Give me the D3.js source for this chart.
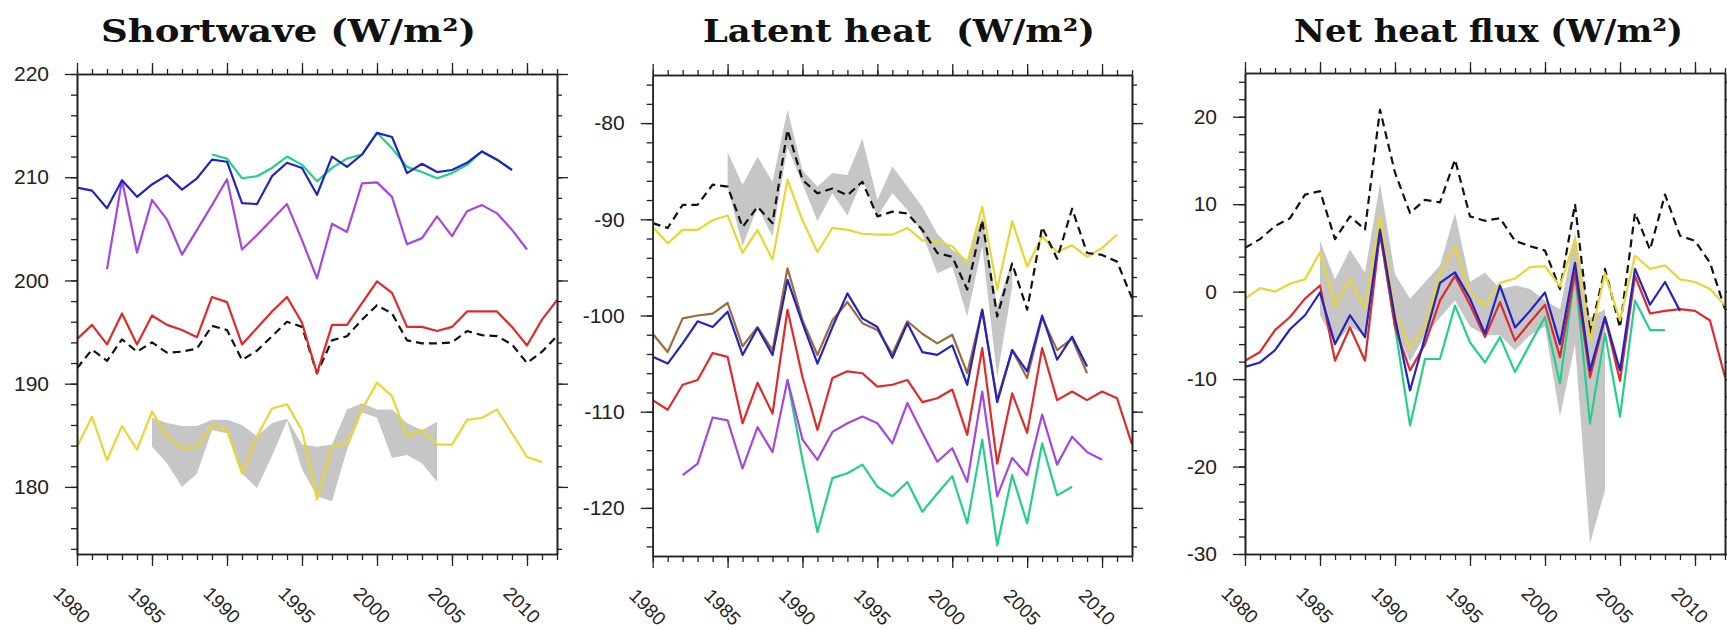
<!DOCTYPE html>
<html><head><meta charset="utf-8">
<script src="https://cdn.jsdelivr.net/npm/d3@7"></script>
<style>body{margin:0;background:#fff} svg{display:block}</style>
</head><body>
<svg id="c" width="1727" height="630"></svg>
<script>
// ---------------- DATA ----------------
const xMajorTicks = [1980, 1985, 1990, 1995, 2000, 2005, 2010];
const titles = ["Shortwave (W/m\u00B2)", "Latent heat  (W/m\u00B2)", "Net heat flux (W/m\u00B2)"];
const swTicks = [180, 190, 200, 210, 220];
const lhTicks = [-120, -110, -100, -90, -80];
const nhTicks = [-30, -20, -10, 0, 10, 20];

// Shortwave
const swBlack = [191.5,193.3,192.2,194.3,193.1,194.0,193.0,193.1,193.4,195.6,195.2,192.3,193.2,194.6,196.0,195.5,191.0,194.2,194.6,196.2,197.6,196.8,194.2,193.9,193.9,194.0,195.1,194.7,194.6,193.8,192.0,193.1,194.6]; // 1980-2012
const swRed = [194.3,195.7,193.8,196.8,193.8,196.6,195.7,195.2,194.5,198.4,197.9,193.8,195.4,197.0,198.4,195.9,191.0,195.7,195.7,197.8,199.9,198.8,195.5,195.5,195.1,195.5,197.0,197.0,197.0,195.5,193.7,196.2,198.1]; // 1980-2012
const swYellow = [183.9,186.8,182.6,185.9,183.6,187.3,184.9,183.8,183.8,186.0,185.5,181.3,184.9,187.6,188.0,185.5,178.8,183.9,184.2,187.5,190.1,188.8,184.9,185.5,184.1,184.1,186.5,186.7,187.5,185.2,182.9,182.4]; // 1980-2011
const swBlue = [209.0,208.7,207.0,209.7,208.1,209.3,210.2,208.8,209.9,211.7,211.5,207.5,207.4,210.1,211.4,210.9,208.3,212.0,211.0,212.2,214.3,213.9,210.4,211.3,210.5,210.7,211.4,212.5,211.7,210.7]; // 1980-2009
const swGreen = [212.2,211.8,209.9,210.1,210.9,212.0,211.2,209.6,210.9,211.8,212.2,214.3,212.8,211.0,210.5,209.9,210.4,211.2,212.5,211.7,210.7]; // 1989-2009
const swPurple = [201.1,209.7,202.7,207.8,205.9,202.5,204.9,207.3,209.8,203.0,204.4,205.9,207.4,203.9,200.2,205.5,204.7,209.4,209.5,208.1,203.5,204.1,206.2,204.3,206.7,207.3,206.5,204.9,203.0]; // 1982-2010
const swBandHi = [186.7,186.2,185.9,185.9,186.5,186.5,186.0,184.9,186.2,186.6,184.1,183.9,184.1,187.5,188.1,187.5,187.5,186.2,185.5,186.3]; // 1985-2004
const swBandLo = [183.9,182.3,180.0,181.3,185.5,185.2,181.3,179.9,183.0,186.4,181.7,179.1,178.6,183.6,187.2,186.7,182.8,183.1,182.3,180.5];

// Latent heat
const lhBlack = [-90.4,-90.9,-88.5,-88.5,-86.4,-86.6,-90.8,-88.7,-90.4,-80.7,-85.9,-87.3,-86.8,-87.5,-86.1,-89.7,-89.2,-89.4,-91.1,-93.5,-93.9,-97.3,-90.1,-100.1,-94.6,-99.4,-90.8,-94.1,-88.9,-93.5,-93.7,-94.4,-98.2]; // 1980-2012
const lhYellow = [-90.8,-92.5,-91.1,-91.1,-90.1,-89.6,-93.5,-91.1,-94.2,-85.9,-90.1,-93.4,-90.9,-91.1,-91.5,-91.6,-91.6,-90.9,-92.2,-92.3,-92.8,-94.6,-88.7,-97.3,-90.2,-94.9,-91.8,-93.4,-92.7,-93.9,-93.0,-91.6]; // 1980-2011
const lhBrown = [-101.9,-103.8,-100.3,-100.0,-99.8,-98.7,-103.2,-101.2,-103.6,-95.1,-100.5,-104.1,-100.5,-98.6,-100.8,-101.5,-104.0,-100.6,-101.9,-102.9,-102.0,-106.0,-99.4,-108.8,-103.6,-106.5,-100.2,-103.6,-102.4,-106.0]; // 1980-2009
const lhBlue = [-104.3,-105.0,-102.9,-100.6,-101.2,-99.6,-104.1,-101.3,-104.1,-96.3,-100.8,-105.0,-101.2,-97.7,-100.3,-101.2,-104.4,-100.8,-103.8,-104.1,-103.1,-107.2,-99.4,-109.0,-103.6,-105.8,-100.0,-104.6,-102.2,-105.3]; // 1980-2009
const lhRed = [-108.8,-109.8,-107.2,-106.7,-103.9,-104.3,-111.2,-107.0,-110.2,-99.4,-106.4,-111.9,-106.5,-105.8,-106.0,-107.4,-107.2,-106.7,-109.0,-108.6,-107.7,-112.4,-103.4,-115.4,-108.1,-112.2,-103.4,-108.8,-107.9,-108.8,-107.9,-108.6,-113.4]; // 1980-2012
const lhPurple = [-116.6,-115.4,-110.6,-110.9,-115.9,-111.6,-114.2,-106.7,-112.9,-115.0,-112.1,-111.2,-110.5,-111.2,-113.3,-109.1,-112.2,-115.2,-113.8,-117.3,-107.9,-118.8,-114.8,-116.6,-110.3,-115.5,-112.6,-114.2,-115.0]; // 1982-2010
const lhGreen = [-106.7,-115.0,-122.5,-116.9,-116.4,-115.5,-117.8,-118.8,-117.3,-120.4,-118.5,-116.7,-121.6,-112.9,-123.9,-116.6,-121.6,-113.3,-118.7,-117.8]; // 1989-2008
const lhBandHi = [-83.0,-86.4,-83.5,-86.1,-78.6,-84.9,-86.6,-85.2,-85.4,-81.6,-88.0,-84.5,-86.6,-88.7,-91.5,-93.2,-94.2,-89.7,-99.1,-94.2]; // 1985-2004
const lhBandLo = [-86.6,-92.8,-88.7,-91.8,-82.5,-86.3,-90.2,-87.3,-89.6,-85.9,-89.7,-87.3,-89.0,-91.5,-95.6,-94.9,-100.1,-92.8,-106.4,-97.0];

// Net heat flux
const nhBlack = [5.0,6.0,7.5,8.4,11.1,11.5,6.0,8.6,7.1,20.8,13.6,9.0,10.5,10.2,15.1,8.6,8.1,8.4,5.8,5.2,4.7,0.3,10.0,-4.8,2.6,-4.1,9.0,4.8,11.1,6.4,5.8,3.3,-2.0]; // 1980-2012
const nhYellow = [-0.8,0.4,0.0,0.9,1.4,4.5,-1.6,1.4,-2.0,8.6,-2.5,-6.5,-4.0,2.0,5.2,-0.1,-1.6,1.0,1.5,2.8,2.9,0.6,6.0,-5.6,2.1,-3.3,4.1,2.6,3.0,1.4,1.1,0.3,-1.6]; // 1980-2012
const nhRed = [-7.9,-6.9,-4.4,-2.9,-0.8,0.7,-7.9,-4.1,-7.9,6.7,-4.0,-9.0,-6.0,-1.0,1.8,-1.5,-5.2,-1.2,-5.6,-3.5,-1.5,-7.5,2.2,-9.8,-3.0,-10.2,1.8,-2.5,-2.2,-2.0,-2.2,-3.3,-9.8]; // 1980-2012
const nhBlue = [-8.6,-8.1,-6.7,-4.3,-2.7,-0.1,-6.0,-2.7,-5.2,7.1,-3.0,-11.3,-5.2,1.0,2.2,-0.8,-4.8,0.7,-4.1,-2.2,-0.1,-6.0,3.3,-9.0,-2.9,-9.0,2.6,-1.5,1.1,-2.2]; // 1980-2009
const nhGreen = [6.7,-4.0,-15.3,-7.7,-7.7,-1.6,-5.8,-8.1,-5.2,-9.2,-6.0,-2.9,-10.5,2.2,-15.1,-4.8,-14.3,-1.0,-4.4,-4.4]; // 1989-2008
const nhBandHi = [5.8,1.4,4.8,2.2,12.4,2.0,-0.8,1.1,3.0,9.0,1.1,2.2,0.3,0.7,0.3,-1.0,-2.0,6.7,-3.0,-2.0]; // 1985-2004
const nhBandLo = [-2.7,-6.0,-4.0,-5.0,6.7,-4.0,-8.0,-5.0,-3.0,-1.0,-4.0,-5.0,-5.0,-6.7,-5.0,-4.0,-14.3,-6.0,-28.8,-22.7];

// ---------------- STYLE / LAYOUT ----------------
const C = {black:"#111", red:"#e02a2a", yellow:"#e8d634", blue:"#2323c0", green:"#22d08c", purple:"#a446e0", brown:"#9c6c3c", band:"#c6c6c6"};
const tickFont = "'Liberation Sans', Arial, sans-serif";

const panels = [
  {title: titles[0], titleX: 101, titleW: 375, x0: 77, x1: 557, y0: 74, y1: 554, dom: [173.5, 220], ticks: swTicks,
   band: {start: 1985, hi: swBandHi, lo: swBandLo},
   series: [
     {start:1980, v: swYellow, c: C.yellow},
     {start:1980, v: swBlack, c: C.black, dash: true},
     {start:1980, v: swRed, c: C.red},
     {start:1982, v: swPurple, c: C.purple},
     {start:1989, v: swGreen, c: C.green},
     {start:1980, v: swBlue, c: C.blue}]},
  {title: titles[1], titleX: 703, titleW: 392, x0: 652.7, x1: 1132, y0: 75, y1: 556, dom: [-125, -75], ticks: lhTicks,
   band: {start: 1985, hi: lhBandHi, lo: lhBandLo},
   series: [
     {start:1980, v: lhYellow, c: C.yellow},
     {start:1980, v: lhBlack, c: C.black, dash: true},
     {start:1989, v: lhGreen, c: C.green},
     {start:1982, v: lhPurple, c: C.purple},
     {start:1980, v: lhRed, c: C.red},
     {start:1980, v: lhBrown, c: C.brown},
     {start:1980, v: lhBlue, c: C.blue}]},
  {title: titles[2], titleX: 1294, titleW: 389, x0: 1245, x1: 1725, y0: 73, y1: 554, dom: [-30, 25], ticks: nhTicks,
   band: {start: 1985, hi: nhBandHi, lo: nhBandLo},
   series: [
     {start:1980, v: nhBlack, c: C.black, dash: true},
     {start:1989, v: nhGreen, c: C.green},
     {start:1980, v: nhYellow, c: C.yellow},
     {start:1980, v: nhRed, c: C.red},
     {start:1980, v: nhBlue, c: C.blue}]}
];

const svg = d3.select("#c");
svg.append("rect").attr("width", 1727).attr("height", 630).attr("fill", "#fff");

const toPts = (start, arr) => arr.map((v, i) => ({yr: start + i, v}));
const fmt = d => String(d); // plain hyphen minus like the original

panels.forEach(p => {
  const x = d3.scaleLinear().domain([1980, 2012]).range([p.x0, p.x1]);
  const y = d3.scaleLinear().domain(p.dom).range([p.y1, p.y0]);
  const g = svg.append("g");

  // title
  svg.append("text").attr("x", p.titleX).attr("y", 42)
    .attr("textLength", p.titleW).attr("lengthAdjust", "spacingAndGlyphs")
    .style("white-space", "pre")
    .attr("font-family", "'DejaVu Serif', serif").attr("font-weight", "bold")
    .attr("font-size", 31).attr("fill", "#111").text(p.title);

  const clip = "clip" + Math.round(p.x0);
  svg.append("clipPath").attr("id", clip).append("rect")
    .attr("x", p.x0).attr("y", p.y0).attr("width", p.x1 - p.x0).attr("height", p.y1 - p.y0);
  const plot = g.append("g").attr("clip-path", `url(#${clip})`);

  // band
  const bandPts = p.band.hi.map((h, i) => ({yr: p.band.start + i, hi: h, lo: p.band.lo[i]}));
  plot.append("path").datum(bandPts)
    .attr("d", d3.area().x(d => x(d.yr)).y0(d => y(d.lo)).y1(d => y(d.hi)))
    .attr("fill", C.band).attr("stroke", "none");

  const line = d3.line().x(d => x(d.yr)).y(d => y(d.v));
  p.series.forEach(s => {
    plot.append("path").datum(toPts(s.start, s.v)).attr("d", line)
      .attr("fill", "none").attr("stroke", s.c).attr("stroke-width", 2.2)
      .attr("stroke-linejoin", "round")
      .attr("stroke-dasharray", s.dash ? "8,5" : null);
  });

  // axes
  const minorX = d3.range(1980, 2013);
  const minorY = d3.range(Math.ceil(p.dom[0] / 2) * 2, p.dom[1] + 0.001, 2);
  const ax = (gen, tx, ty) => {
    const a = g.append("g").attr("transform", `translate(${tx},${ty})`).call(gen);
    a.select(".domain").attr("stroke", "#222").attr("stroke-width", 1.6);
    a.selectAll(".tick line").attr("stroke", "#222").attr("stroke-width", 1.3);
    return a;
  };
  // bottom
  ax(d3.axisBottom(x).tickValues(minorX).tickSize(6).tickSizeOuter(0).tickFormat(""), 0, p.y1);
  ax(d3.axisBottom(x).tickValues(xMajorTicks).tickSize(12).tickSizeOuter(0).tickFormat(""), 0, p.y1);
  // rotated year labels
  g.selectAll("text.xl").data(xMajorTicks).join("text").attr("class", "xl")
    .attr("transform", d => `translate(${x(d) - 5},${p.y1 + 51}) rotate(45)`)
    .attr("text-anchor", "middle").attr("dy", "0.35em")
    .attr("font-family", tickFont).attr("font-size", 19).attr("fill", "#222")
    .text(fmt);
  // top
  ax(d3.axisTop(x).tickValues(minorX).tickSize(5).tickSizeOuter(0).tickFormat(""), 0, p.y0);
  ax(d3.axisTop(x).tickValues(xMajorTicks).tickSize(11).tickSizeOuter(0).tickFormat(""), 0, p.y0);
  // left
  ax(d3.axisLeft(y).tickValues(minorY).tickSize(6).tickSizeOuter(0).tickFormat(""), p.x0, 0);
  const ly = ax(d3.axisLeft(y).tickValues(p.ticks).tickSize(12).tickPadding(16).tickSizeOuter(0).tickFormat(fmt), p.x0, 0);
  ly.selectAll("text").attr("font-family", tickFont).attr("font-size", 21).attr("fill", "#222");
  // right
  ax(d3.axisRight(y).tickValues(minorY).tickSize(5).tickSizeOuter(0).tickFormat(""), p.x1, 0);
  ax(d3.axisRight(y).tickValues(p.ticks).tickSize(11).tickSizeOuter(0).tickFormat(""), p.x1, 0);
});
</script>
</body></html>
